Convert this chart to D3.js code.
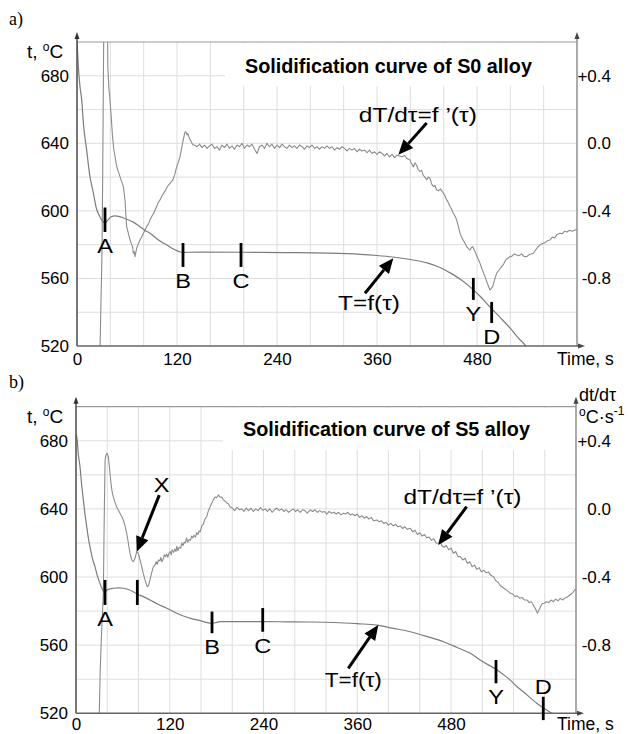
<!DOCTYPE html>
<html><head><meta charset="utf-8">
<script src="https://cdn.jsdelivr.net/npm/d3@7"></script>
<style>
body{margin:0;background:#fff}
svg{display:block}
text{font-family:"Liberation Sans",Arial,sans-serif}
</style>
</head><body>
<svg id="chart" width="630" height="734"></svg>
<script>
// ---------------- data ----------------
const timeTicks = [0, 120, 240, 360, 480];
const tempTicks = [520, 560, 600, 640, 680];
const rateTicks = [0.4, 0.0, -0.4, -0.8];
const rateTickLabels = ["+0.4", "0.0", "-0.4", "-0.8"];
const gridTimes = [40,80,120,160,200,240,280,320,360,400,440,480,520,560,600];
const gridTemps = [540,560,580,600,620,640,660,680];

// S0 alloy: cooling curve [time s, temperature °C]
const s0Temp = [[0,702],[1.6,685.5],[3.5,674],[5.6,665.8],[8,650],[11.6,636],[15,622],[19.6,610.7],[23,602],[27.6,596.4],[31,593.6],[33.6,592.9],[37,594.5],[41,596.5],[45.6,597],[50,596.8],[56,595.8],[62,594.6],[67,593.5],[75,590.8],[82,588.3],[87.6,586.8],[95,583.8],[102,581.4],[108,579.8],[115,577.6],[121,576.2],[127,575.3],[133,575.5],[150,575.6],[200,575.5],[250,575.3],[300,575],[340,574.3],[360,573.6],[379,572.7],[400,571.2],[420,569.2],[435,566.6],[447.6,563.3],[460,559.5],[471.6,555],[484,549.3],[495.6,543.1],[508,536.8],[519.6,530.7],[530,524.5],[537.6,520.6],[545,515]];

// S0 alloy: cooling rate [time s, dT/dτ °C/s]
const s0Rate = [[27,-1.4],[28.5,-1.0],[29.6,-0.75],[30.2,-0.55],[30.8,-0.2],[31.4,0.2],[32,0.6],[33,1.2],[34,1.6],[35.5,1.6],[36.2,0.9],[37,0.45],[38.2,0.33],[39.6,0.258],[41,0.16],[42.5,0.05],[44,-0.03],[45.6,-0.078],[47,-0.12],[49,-0.16],[51.6,-0.197],[53.5,-0.225],[55.6,-0.256],[57.6,-0.335],[58.6,-0.42],[59.6,-0.493],[61.6,-0.532],[63.5,-0.57],[65.6,-0.6],[66.6,-0.61],[67.6,-0.651],[68.6,-0.64],[69.6,-0.671],[70.8,-0.64],[72,-0.615],[74,-0.59],[75.6,-0.572],[78,-0.55],[80,-0.53],[82,-0.51],[84,-0.49],[85.5,-0.48],[87.6,-0.453],[90,-0.43],[92,-0.415],[94,-0.39],[96,-0.37],[97.5,-0.35],[99.6,-0.335],[102,-0.31],[104,-0.295],[106,-0.28],[108,-0.26],[110,-0.245],[112,-0.235],[115,-0.216],[117,-0.19],[119,-0.15],[121,-0.12],[123.6,-0.08],[125.5,-0.03],[127.5,0.02],[129.6,0.068],[131,0.065],[132,0.05],[133,0.058],[134.5,0.035],[136,0.02],[137.5,0.005],[139,-0.009],[141,-0.01],[144,-0.02],[147,-0.005],[150,-0.025],[153,-0.01],[156,-0.03],[159,-0.015],[162,-0.005],[165,-0.03],[168,-0.02],[171,-0.04],[174,-0.01],[177,-0.025],[180,-0.005],[183,-0.03],[186,-0.015],[189,-0.035],[192,-0.01],[195,-0.02],[198,0.0],[201,-0.03],[204,-0.01],[207,-0.02],[210,-0.005],[213,-0.035],[216,-0.06],[219,-0.02],[222,-0.01],[225,-0.03],[228,0.0],[231,-0.02],[234,-0.005],[237,-0.03],[240,-0.01],[243,-0.025],[246,-0.005],[249,-0.02],[252,-0.03],[255,-0.01],[258,-0.025],[261,-0.015],[264,-0.03],[267,-0.01],[270,-0.02],[273,-0.035],[276,-0.015],[279,-0.025],[282,-0.01],[285,-0.03],[288,-0.02],[291,-0.035],[294,-0.02],[297,-0.03],[300,-0.015],[303,-0.03],[306,-0.02],[309,-0.04],[312,-0.025],[315,-0.035],[318,-0.02],[321,-0.03],[324,-0.045],[327,-0.03],[330,-0.04],[333,-0.03],[336,-0.05],[339,-0.035],[342,-0.045],[345,-0.04],[348,-0.055],[351,-0.04],[354,-0.06],[357,-0.05],[360,-0.065],[363,-0.05],[366,-0.06],[369,-0.075],[372,-0.06],[375,-0.08],[378,-0.065],[381,-0.085],[384,-0.07],[387,-0.075],[390,-0.08],[393,-0.072],[396,-0.09],[399.6,-0.098],[401.5,-0.12],[403.6,-0.14],[405.5,-0.115],[407.5,-0.13],[409.5,-0.155],[411.6,-0.167],[413.5,-0.16],[415.5,-0.19],[417.5,-0.2],[419.6,-0.216],[421.5,-0.2],[423.5,-0.205],[425.5,-0.24],[427.6,-0.256],[429.5,-0.25],[431.6,-0.276],[434,-0.28],[436,-0.27],[439.6,-0.295],[441.5,-0.31],[443.6,-0.335],[445.5,-0.35],[447.6,-0.374],[449.5,-0.39],[451.6,-0.414],[453.5,-0.43],[455.6,-0.453],[457.5,-0.49],[459.6,-0.532],[462,-0.56],[465.6,-0.592],[468,-0.615],[471.6,-0.632],[473.2,-0.618],[474.8,-0.612],[477.6,-0.641],[480.5,-0.675],[483.6,-0.71],[486.5,-0.75],[489.6,-0.789],[492.5,-0.83],[495.6,-0.868],[497,-0.86],[498.8,-0.848],[501,-0.81],[503.6,-0.769],[506.5,-0.75],[509.6,-0.73],[512,-0.715],[514.5,-0.69],[517,-0.68],[519.6,-0.671],[522,-0.668],[524.5,-0.655],[527.6,-0.661],[530.5,-0.665],[533.5,-0.655],[536.5,-0.67],[539.6,-0.671],[542.5,-0.66],[545,-0.655],[547.6,-0.651],[550.5,-0.63],[553,-0.615],[556,-0.6],[559.6,-0.592],[562.5,-0.585],[565,-0.575],[567.6,-0.572],[570.5,-0.555],[573,-0.56],[576,-0.54],[579.6,-0.532],[582.5,-0.535],[585,-0.52],[588,-0.525],[591,-0.515],[594,-0.52],[597.6,-0.513],[600,-0.51]];

// S5 alloy: cooling curve
const s5Temp = [[0,684],[1.3,681.5],[3,672],[5.1,664.8],[7.3,654],[9.4,645.3],[11.5,637],[13.7,629.6],[15.8,623],[17.9,617.8],[21,611],[24.3,606.1],[27.5,600.5],[30.7,596.3],[33,593.5],[35,591.8],[37.2,591.2],[39.3,592.2],[43,593],[47.7,593.4],[55,593.6],[60.5,593.4],[66,592.8],[73.3,591.4],[78,590],[86.1,588.5],[94.8,586.5],[105,584],[116.2,581.7],[127,579.2],[137.5,577.1],[148,575.6],[158.9,574.4],[166,573.4],[173.8,572.8],[180,573.4],[184.5,573.8],[200,573.8],[239,573.8],[270,573.7],[299.8,573.6],[330,573.3],[360,572.6],[385.2,571.8],[405,570],[427.9,567.9],[450,565],[470.5,562],[488,558.6],[504.7,555.2],[520,550.5],[539,545.4],[555.5,539.6],[564.6,535.6],[572.6,532.7],[589.7,525.9],[602.5,521.9],[609,520],[615,517.5]];

// S5 alloy: cooling rate
const s5Rate = [[28.5,-1.4],[29.8,-1.2],[31,-0.95],[32.5,-0.75],[35,-0.495],[36,-0.1],[37.2,0.287],[38.2,0.31],[39.3,0.327],[40.3,0.32],[41.4,0.307],[42.5,0.26],[43.5,0.209],[45,0.14],[46.3,0.1],[47.7,0.072],[49.8,0.04],[52,0.013],[54,-0.005],[56.3,-0.026],[58.5,-0.045],[60.5,-0.065],[62.8,-0.1],[64.9,-0.143],[67,-0.2],[69.1,-0.26],[71.3,-0.3],[73.3,-0.31],[75.5,-0.29],[77.7,-0.251],[79.7,-0.26],[82,-0.3],[84.1,-0.339],[86.2,-0.38],[88.3,-0.417],[90,-0.44],[91.3,-0.457],[92.8,-0.45],[94.7,-0.417],[96.8,-0.375],[99,-0.339],[101,-0.33],[102.5,-0.31],[104,-0.325],[105.5,-0.3],[107.5,-0.305],[108.5,-0.285],[110,-0.31],[112,-0.29],[113,-0.27],[114.5,-0.28],[116,-0.265],[117.5,-0.285],[119,-0.26],[120.5,-0.25],[122,-0.27],[123,-0.24],[125,-0.255],[126.5,-0.235],[128,-0.25],[129,-0.22],[130.5,-0.245],[132,-0.225],[134,-0.23],[135.5,-0.2],[137,-0.215],[138.5,-0.195],[140,-0.2],[141.5,-0.17],[143,-0.195],[145,-0.18],[146.5,-0.185],[148,-0.16],[149.5,-0.17],[151,-0.155],[153,-0.165],[154.5,-0.14],[156,-0.15],[157.5,-0.13],[159,-0.135],[161,-0.1],[163,-0.09],[165,-0.06],[167.3,-0.046],[169.5,-0.01],[171.7,0.013],[173.8,0.035],[175.8,0.053],[178,0.07],[180,0.065],[182.2,0.082],[184.5,0.068],[186.5,0.07],[188.6,0.053],[191,0.045],[193,0.035],[195,0.03],[197.1,0.013],[200,0.005],[203,-0.01],[206,0.01],[209,-0.005],[212,0.0],[215,-0.015],[218,0.005],[221,-0.01],[224,0.005],[227,-0.015],[230,0.0],[233,-0.01],[236,0.008],[239,-0.008],[242,0.0],[245,-0.015],[248,0.0],[251,-0.02],[254,-0.005],[257,0.005],[260,-0.01],[263,0.0],[266,-0.015],[269,-0.005],[272,-0.02],[275,-0.01],[278,0.0],[281,-0.015],[284,-0.005],[287,-0.02],[290,-0.005],[293,-0.01],[296,-0.025],[299.8,-0.006],[303,-0.015],[306,-0.005],[309,-0.02],[312,-0.01],[315,-0.02],[318,-0.015],[321,-0.03],[324,-0.015],[327,-0.025],[330,-0.02],[333,-0.03],[336,-0.02],[339,-0.035],[342.4,-0.026],[345,-0.03],[348,-0.02],[351,-0.035],[354,-0.03],[357,-0.04],[360,-0.03],[363,-0.05],[366,-0.04],[369,-0.055],[372,-0.045],[375,-0.06],[378,-0.05],[381,-0.07],[385.2,-0.065],[388,-0.075],[391,-0.07],[394,-0.085],[397,-0.08],[400,-0.095],[403,-0.085],[406,-0.1],[409,-0.09],[412,-0.105],[415,-0.1],[418,-0.115],[421,-0.105],[424,-0.12],[427.9,-0.114],[431,-0.135],[434,-0.125],[437,-0.15],[440,-0.14],[443,-0.16],[446,-0.15],[449,-0.17],[452,-0.165],[455,-0.185],[458,-0.175],[461,-0.2],[464.1,-0.202],[466,-0.18],[468,-0.215],[471,-0.225],[474,-0.215],[477,-0.24],[480,-0.23],[483,-0.26],[486,-0.25],[489,-0.28],[492,-0.28],[495,-0.3],[498,-0.29],[501,-0.32],[504,-0.31],[507,-0.34],[510,-0.33],[513,-0.355],[516,-0.345],[519,-0.37],[522,-0.36],[525,-0.375],[528,-0.37],[531,-0.39],[534.6,-0.398],[537,-0.42],[540,-0.43],[543,-0.45],[546,-0.46],[549,-0.47],[552,-0.48],[556,-0.495],[559,-0.5],[562,-0.515],[565,-0.51],[568,-0.525],[571,-0.52],[574,-0.535],[577.4,-0.535],[580,-0.55],[583,-0.545],[586,-0.57],[588.5,-0.59],[590.6,-0.613],[592.5,-0.595],[595,-0.57],[597,-0.555],[599,-0.554],[602,-0.545],[605,-0.55],[608,-0.535],[611,-0.545],[614,-0.53],[617,-0.54],[620,-0.525],[623,-0.535],[625,-0.525],[628,-0.52],[631,-0.51],[634,-0.5],[636,-0.49],[638.4,-0.476],[640,-0.47]];

// characteristic points: label, time, bar top/bottom temperature
const s0Marks = [
  {label:"A", t:33.6, top:602, bot:587.5},
  {label:"B", t:127.2, top:581, bot:566.8},
  {label:"C", t:196.8, top:581, bot:566.8},
  {label:"Y", t:475.6, top:560.3, bot:547.3},
  {label:"D", t:497.6, top:546.1, bot:533.6}
];
const s5Marks = [
  {label:"A", t:37.1, top:598.3, bot:583.6},
  {label:"", t:78.5, top:598.3, bot:583.6},
  {label:"B", t:174.1, top:579.7, bot:567},
  {label:"C", t:239, top:581.8, bot:567.9},
  {label:"Y", t:537.6, top:551.3, bot:537.6},
  {label:"D", t:598.1, top:529.7, bot:516, above:true}
];

// annotations: text anchor (t,T), text width and arrow from/to (t,T)
const s0Notes = [
  {text:"dT/dτ=f ’(τ)", t:409, T:652.9, w:118, from:[419.6,652], to:[385.6,633.2]},
  {text:"T=f(τ)", t:350.4, T:541.3, w:62, from:[345.6,551.2], to:[379.6,572]}
];
const s5Notes = [
  {text:"X", t:109.7, T:650, w:0, from:[106.6,648.1], to:[77.7,614.9]},
  {text:"dT/dτ=f ’(τ)", t:494.7, T:643.1, w:118, from:[500,641.3], to:[463.7,618.8]},
  {text:"T=f(τ)", t:355, T:535.4, w:57, from:[348.5,546.4], to:[387,571.9]}
];

const titles = ["Solidification curve of S0 alloy", "Solidification curve of S5 alloy"];

// ---------------- drawing ----------------
const svg = d3.select("#chart");

const panels = [
  {tag:"a)", tagY:25, xMax:600, x0:77, x1:577, yTop:42, yBot:346,
   temp:s0Temp, rate:s0Rate, marks:s0Marks, notes:s0Notes, title:titles[0],
   titleX:245, titleY:73, boxX:225, boxB:86, rateLabel:false, gridMax:560, tickPad:7},
  {tag:"b)", tagY:388, xMax:640, x0:76, x1:576, yTop:406.7, yBot:713.3,
   temp:s5Temp, rate:s5Rate, marks:s5Marks, notes:s5Notes, title:titles[1],
   titleX:243, titleY:436, boxX:223, boxB:450, rateLabel:true, gridMax:600, tickPad:5}
];

panels.forEach((p, i) => {
  const g = svg.append("g");
  const x = d3.scaleLinear().domain([0, p.xMax]).range([p.x0, p.x1]);
  const y = d3.scaleLinear().domain([520, 700]).range([p.yBot, p.yTop]);
  const yR = d3.scaleLinear().domain([-1.2, 0.6]).range([p.yBot, p.yTop]);

  // panel tag
  g.append("text").attr("x", 9).attr("y", p.tagY)
    .style("font-family", "'Liberation Serif','Times New Roman',serif")
    .style("font-size", "18px").text(p.tag);

  // grid
  const grid = g.append("g").attr("stroke", "#dedede").attr("stroke-width", 1);
  gridTimes.filter(v => v <= p.gridMax).forEach(v => {
    grid.append("line").attr("x1", x(v)).attr("x2", x(v))
      .attr("y1", p.yTop).attr("y2", p.yBot);
  });
  gridTemps.forEach(v => {
    grid.append("line").attr("x1", p.x0).attr("x2", p.x1)
      .attr("y1", y(v)).attr("y2", y(v));
  });

  // title box
  g.append("rect").attr("x", p.boxX).attr("y", p.yTop + 1)
    .attr("width", p.x1 - p.boxX - 1).attr("height", p.boxB - p.yTop - 1)
    .attr("fill", "#fff");
  g.append("text").attr("x", p.titleX).attr("y", p.titleY)
    .style("font-weight", "bold").style("font-size", "19.8px").text(p.title);

  // top border
  g.append("line").attr("x1", p.x0).attr("x2", p.x1).attr("y1", p.yTop).attr("y2", p.yTop)
    .attr("stroke", "#9a9a9a").attr("stroke-width", 1.2);

  // curves
  const clipId = "clip" + i;
  g.append("clipPath").attr("id", clipId).append("rect")
    .attr("x", p.x0).attr("y", p.yTop).attr("width", p.x1 - p.x0).attr("height", p.yBot - p.yTop);
  const curves = g.append("g").attr("clip-path", `url(#${clipId})`).attr("fill", "none");
  curves.append("path").datum(p.rate)
    .attr("d", d3.line().x(d => x(d[0])).y(d => yR(d[1])))
    .attr("stroke", "#8c8c8c").attr("stroke-width", 1.1).attr("stroke-linejoin", "round");
  curves.append("path").datum(p.temp)
    .attr("d", d3.line().curve(d3.curveMonotoneX).x(d => x(d[0])).y(d => y(d[1])))
    .attr("stroke", "#7c7c7c").attr("stroke-width", 1.2);

  // axes lines with arrows
  g.append("line").attr("x1", p.x0).attr("x2", p.x0).attr("y1", p.yBot).attr("y2", p.yTop - 6)
    .attr("stroke", "#555").attr("stroke-width", 1.6);
  g.append("path").attr("d", `M${p.x0},${p.yTop - 10} l-2.5,7 l5,0 z`).attr("fill", "#333");
  g.append("line").attr("x1", p.x1).attr("x2", p.x1).attr("y1", p.yBot).attr("y2", p.yTop - 6)
    .attr("stroke", "#888").attr("stroke-width", 1.4);
  g.append("path").attr("d", `M${p.x1},${p.yTop - 10} l-2.5,7 l5,0 z`).attr("fill", "#444");
  g.append("line").attr("x1", p.x0).attr("x2", p.x1 + 4).attr("y1", p.yBot).attr("y2", p.yBot)
    .attr("stroke", "#666").attr("stroke-width", 1.4);
  g.append("path").attr("d", `M${p.x1 + 8},${p.yBot} l-7,-2.5 l0,5 z`).attr("fill", "#444");

  // tick labels via d3 axes
  const fs = "17px";
  const left = g.append("g").attr("transform", `translate(${p.x0},0)`)
    .call(d3.axisLeft(y).tickValues(tempTicks).tickSize(0).tickPadding(8).tickFormat(d3.format("d")));
  const bottom = g.append("g").attr("transform", `translate(0,${p.yBot})`)
    .call(d3.axisBottom(x).tickValues(timeTicks).tickSize(0).tickPadding(p.tickPad).tickFormat(d3.format("d")));
  const right = g.append("g").attr("transform", `translate(${p.x1},0)`)
    .call(d3.axisRight(yR).tickValues(rateTicks).tickSize(0).tickPadding(0)
      .tickFormat((d, k) => rateTickLabels[k]));
  [left, bottom, right].forEach(a => {
    a.select(".domain").remove();
    a.selectAll("text").attr("fill", "#000").style("font-size", fs)
      .style("font-family", "'Liberation Sans',Arial,sans-serif");
  });
  right.selectAll("text").attr("text-anchor", "end").attr("x", 611 - p.x1);

  // axis titles
  const tl = g.append("text").attr("x", 27).attr("y", p.yTop + 16).style("font-size", "19px");
  tl.append("tspan").text("t, ");
  tl.append("tspan").attr("dy", -7).style("font-size", "12px").text("o");
  tl.append("tspan").attr("dy", 7).text("C");
  g.append("text").attr("x", 557).attr("y", p.yBot + p.tickPad + 12).style("font-size", "17.5px").text("Time, s");

  if (p.rateLabel) {
    g.append("text").attr("x", 579).attr("y", p.yTop - 6).style("font-size", "18px").text("dt/dτ");
    const u = g.append("text").attr("x", 579).attr("y", p.yTop + 16).style("font-size", "18px");
    u.append("tspan").attr("dy", -7).style("font-size", "12px").text("o");
    u.append("tspan").attr("dy", 7).text("C·s");
    u.append("tspan").attr("dy", -8).style("font-size", "12px").text("-1");
  }

  // characteristic point bars and letters
  p.marks.forEach(m => {
    g.append("line").attr("x1", x(m.t)).attr("x2", x(m.t))
      .attr("y1", y(m.top)).attr("y2", y(m.bot))
      .attr("stroke", "#000").attr("stroke-width", 2.8);
    if (m.label) {
      const lx = x(m.t), ly = m.above ? y(m.top) - 3 : y(m.bot) + 21;
      g.append("text")
        .attr("transform", `translate(${lx},${ly}) scale(1.15,1)`)
        .attr("text-anchor", "middle").style("font-size", "20.5px").text(m.label);
    }
  });

  // annotations with arrows
  p.notes.forEach(n => {
    const t = g.append("text").attr("x", x(n.t)).attr("y", y(n.T))
      .attr("text-anchor", "middle").style("font-size", "20.5px").text(n.text);
    if (n.w) t.attr("textLength", n.w).attr("lengthAdjust", "spacingAndGlyphs");
    else t.attr("transform", `translate(${x(n.t)},0) scale(1.15,1) translate(${-x(n.t)},0)`);
    const x1 = x(n.from[0]), y1 = y(n.from[1]), x2 = x(n.to[0]), y2 = y(n.to[1]);
    const ang = Math.atan2(y2 - y1, x2 - x1);
    const L = 15, Wd = 6.5;
    const bx = x2 - L * Math.cos(ang), by = y2 - L * Math.sin(ang);
    g.append("line").attr("x1", x1).attr("y1", y1).attr("x2", bx).attr("y2", by)
      .attr("stroke", "#000").attr("stroke-width", 3);
    const px = -Math.sin(ang) * Wd, py = Math.cos(ang) * Wd;
    g.append("path").attr("d", `M${x2},${y2} L${bx + px},${by + py} L${bx - px},${by - py} Z`)
      .attr("fill", "#000");
  });
});
</script>
</body></html>
